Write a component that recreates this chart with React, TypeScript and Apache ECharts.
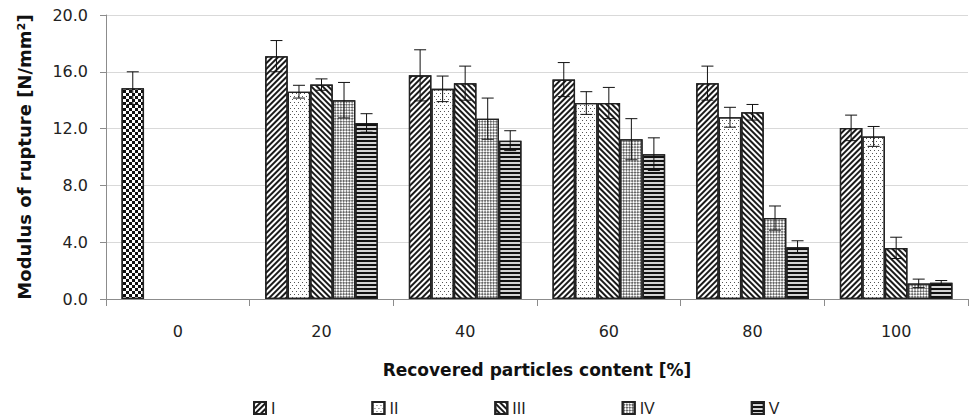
import React, { useEffect, useRef } from "react";
import * as echarts from "echarts";

const categories = ["0", "20", "40", "60", "80", "100"];
const seriesNames = ["I", "II", "III", "IV", "V"];
// value at "0" is the control board (drawn in series I slot with its own pattern)
const valuesI = [14.85, 17.1, 15.75, 15.45, 15.2, 12.05];
const valuesII = [null, 14.6, 14.8, 13.8, 12.8, 11.45];
const valuesIII = [null, 15.1, 15.2, 13.8, 13.15, 3.6];
const valuesIV = [null, 14.0, 12.7, 11.25, 5.7, 1.1];
const valuesV = [null, 12.4, 11.15, 10.2, 3.65, 1.15];
const errI = [1.15, 1.1, 1.8, 1.2, 1.2, 0.9];
const errII = [null, 0.45, 0.9, 0.8, 0.7, 0.7];
const errIII = [null, 0.4, 1.2, 1.1, 0.55, 0.75];
const errIV = [null, 1.25, 1.45, 1.45, 0.85, 0.3];
const errV = [null, 0.65, 0.7, 1.15, 0.45, 0.15];
const yTicks = [0, 4, 8, 12, 16, 20];

const CAT_GAP = 0.216;

const decals: any[] = [
  { symbol: "rect", symbolSize: 1, color: "#1a1a1a", dashArrayX: [1, 0], dashArrayY: [1.6, 1.8], rotation: -Math.PI / 4 },
  { symbol: "rect", symbolSize: 1, color: "#555", dashArrayX: [[1, 3], [0, 2, 1, 1]], dashArrayY: [1, 2] },
  { symbol: "rect", symbolSize: 1, color: "#1a1a1a", dashArrayX: [1, 0], dashArrayY: [1.9, 1.8], rotation: Math.PI / 4 },
  { symbol: "rect", symbolSize: 1, color: "#666", dashArrayX: [[1.5, 1.5], [0, 1.5, 1.5, 0]], dashArrayY: [1.5, 0], rotation: Math.PI / 4 },
  { symbol: "rect", symbolSize: 1, color: "#111", dashArrayX: [1, 0], dashArrayY: [1.2, 1.8] },
];
const controlDecal = { symbol: "rect", symbolSize: 1, color: "#111", dashArrayX: [[2.5, 2.5], [0, 2.5, 2.5, 0]], dashArrayY: [2.5, 0] };
const baseColors = ["#ffffff", "#ffffff", "#ffffff", "#ffffff", "#d4d4d4"];

export default function App() {
  const ref = useRef<HTMLDivElement>(null);
  useEffect(() => {
    if (!ref.current) return;
    const chart = echarts.init(ref.current, undefined, { renderer: "svg" });
    const allVals = [valuesI, valuesII, valuesIII, valuesIV, valuesV];
    const allErr = [errI, errII, errIII, errIV, errV];

    const barSeries = seriesNames.map((name, s) => ({
      name,
      type: "bar",
      barGap: "0%",
      barCategoryGap: CAT_GAP * 100 + "%",
      data: allVals[s].map((v, i) => {
        if (v === null) return "-";
        if (s === 0 && i === 0) {
          return { value: v, itemStyle: { decal: controlDecal, color: "#ffffff" } };
        }
        return v;
      }),
      itemStyle: {
        color: baseColors[s],
        borderColor: "#222",
        borderWidth: 1.3,
        decal: decals[s],
      },
      emphasis: { disabled: true },
    }));

    const errData: any[] = [];
    allVals.forEach((arr, s) => {
      arr.forEach((v, i) => {
        const e = allErr[s][i];
        if (v !== null && e !== null) errData.push([i, s, v, e]);
      });
    });

    const errSeries = {
      type: "custom",
      name: "err",
      z: 10,
      silent: true,
      encode: { x: 0, y: 2 },
      data: errData,
      renderItem: (params: any, api: any) => {
        const cat = api.value(0);
        const s = api.value(1);
        const v = api.value(2);
        const e = api.value(3);
        const band = api.size([1, 0])[0];
        const total = band * (1 - CAT_GAP);
        const bw = total / 5;
        const c = api.coord([cat, v]);
        const x = c[0] - total / 2 + bw * (s + 0.5);
        const yTop = api.coord([cat, v + e])[1];
        const yBot = api.coord([cat, v - e])[1];
        const cap = 6;
        const st = { stroke: "#111", lineWidth: 1 };
        return {
          type: "group",
          children: [
            { type: "line", shape: { x1: x, y1: yTop, x2: x, y2: yBot }, style: st },
            { type: "line", shape: { x1: x - cap, y1: yTop, x2: x + cap, y2: yTop }, style: st },
            { type: "line", shape: { x1: x - cap, y1: yBot, x2: x + cap, y2: yBot }, style: st },
          ],
        };
      },
    };

    chart.setOption({
      animation: false,
      grid: { left: 106, right: 2, top: 15, bottom: 120, containLabel: false },
      legend: {
        data: seriesNames,
        left: 253,
        top: 400,
        padding: 0,
        icon: "rect",
        itemWidth: 12,
        itemHeight: 12,
        itemGap: 96,
        textStyle: { fontFamily: "Liberation Sans", fontSize: 16, color: "#222" },
      },
      xAxis: {
        type: "category",
        data: categories,
        name: "Recovered particles content [%]",
        nameLocation: "middle",
        nameGap: 62,
        nameTextStyle: { fontFamily: "DejaVu Sans", fontWeight: "bold", fontSize: 17, color: "#111", verticalAlign: "top" },
        axisLine: { lineStyle: { color: "#8c8c8c", width: 1 } },
        axisTick: { show: true, length: 7, lineStyle: { color: "#8c8c8c" } },
        axisLabel: { fontFamily: "DejaVu Sans", fontSize: 16, color: "#222", margin: 24 },
        splitLine: { show: false },
      },
      yAxis: {
        type: "value",
        min: yTicks[0],
        max: yTicks[yTicks.length - 1],
        interval: 4,
        name: "Modulus of rupture [N/mm²]",
        nameLocation: "middle",
        nameGap: 73,
        nameTextStyle: { fontFamily: "DejaVu Sans", fontWeight: "bold", fontSize: 18, color: "#111" },
        axisLine: { show: true, lineStyle: { color: "#8c8c8c", width: 1 } },
        axisTick: { show: true, length: 6, lineStyle: { color: "#8c8c8c" } },
        axisLabel: { fontFamily: "DejaVu Sans", fontSize: 16, color: "#222", margin: 18, formatter: (v: number) => v.toFixed(1) },
        splitLine: { show: true, lineStyle: { color: "#d9d9d9", width: 1 } },
      },
      series: [...barSeries, errSeries],
    });
    return () => chart.dispose();
  }, []);
  return <div ref={ref} style={{ width: 970, height: 419, position: "absolute", left: 0, top: 0 }} />;
}
